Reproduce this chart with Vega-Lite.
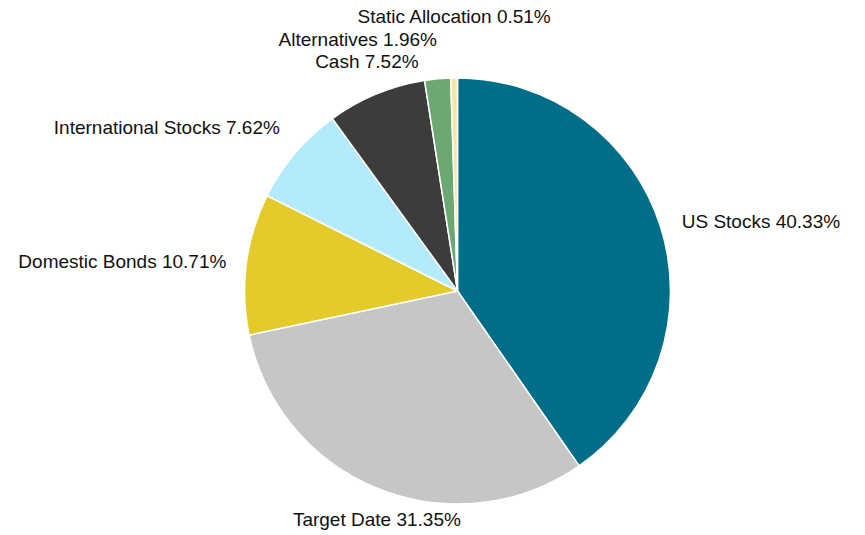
{
  "$schema": "https://vega.github.io/schema/vega-lite/v6.json",
  "autosize": {"type": "none"},
  "width": 425,
  "height": 426,
  "padding": {"left": 245, "top": 78, "right": 195, "bottom": 31},
  "background": "white",
  "view": {"stroke": null},
  "data": {
    "values": [
      {"category": "US Stocks", "value": 40.33, "order": 1},
      {"category": "Target Date", "value": 31.35, "order": 2},
      {"category": "Domestic Bonds", "value": 10.71, "order": 3},
      {"category": "International Stocks", "value": 7.62, "order": 4},
      {"category": "Cash", "value": 7.52, "order": 5},
      {"category": "Alternatives", "value": 1.96, "order": 6},
      {"category": "Static Allocation", "value": 0.51, "order": 7}
    ]
  },
  "encoding": {
    "theta": {"field": "value", "type": "quantitative", "stack": true},
    "order": {"field": "order", "type": "quantitative", "sort": "ascending"}
  },
  "layer": [
    {
      "mark": {"type": "arc", "stroke": "white", "strokeWidth": 1.5, "outerRadius": 213},
      "encoding": {
        "color": {
          "field": "category",
          "type": "nominal",
          "legend": null,
          "scale": {
            "domain": ["US Stocks", "Target Date", "Domestic Bonds", "International Stocks", "Cash", "Alternatives", "Static Allocation"],
            "range": ["#006D89", "#C6C6C6", "#E2CB2B", "#B4EBFC", "#3C3C3C", "#6CA872", "#F4E8A6"]
          }
        }
      }
    },
    {
      "mark": {
        "type": "text",
        "font": "Liberation Sans",
        "fontSize": 19,
        "fill": "#111111",
        "baseline": "middle",
        "align": {"expr": "({'US Stocks':'left','Target Date':'center','Domestic Bonds':'right','International Stocks':'right','Cash':'center','Alternatives':'right','Static Allocation':'center'})[datum.category]"},
        "dx": {"expr": "({'US Stocks':0,'Target Date':10,'Domestic Bonds':0,'International Stocks':0,'Cash':4,'Alternatives':3,'Static Allocation':1})[datum.category]"},
        "dy": {"expr": "({'US Stocks':1,'Target Date':0,'Domestic Bonds':1,'International Stocks':-12,'Cash':0,'Alternatives':0,'Static Allocation':0})[datum.category]"}
      },
      "encoding": {
        "radius": {"value": {"expr": "({'US Stocks':235,'Target Date':246,'Domestic Bonds':233,'International Stocks':233,'Cash':248,'Alternatives':252,'Static Allocation':274})[datum.category]"}},
        "text": {"field": "label", "type": "nominal"}
      },
      "transform": [
        {"calculate": "datum.category + ' ' + format(datum.value, '.2f') + '%'", "as": "label"}
      ]
    }
  ]
}
